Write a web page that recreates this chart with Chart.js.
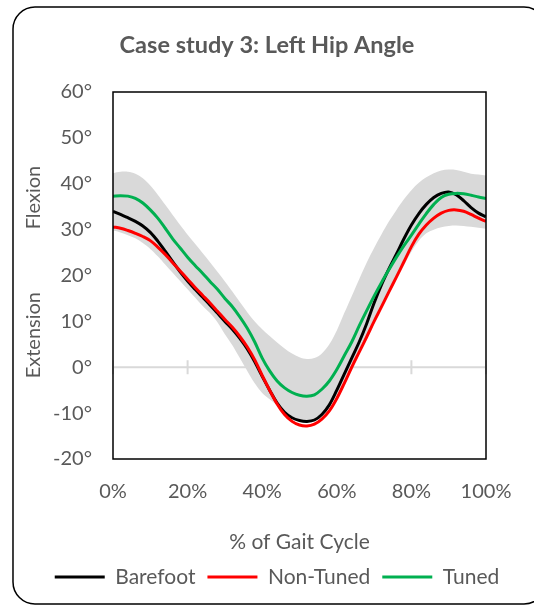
<!DOCTYPE html>
<html>
<head>
<meta charset="utf-8">
<title>Case study 3: Left Hip Angle</title>
<script src="https://cdn.jsdelivr.net/npm/chart.js@4.4.1/dist/chart.umd.min.js"></script>
<style>
  html, body { margin: 0; padding: 0; background: #ffffff; }
  #wrap { width: 534px; height: 608px; }
</style>
</head>
<body>
<div id="wrap"><canvas id="hip" width="534" height="608"></canvas></div>
<script>
// % of gait cycle (sample positions)
const gaitPercent = [0, 2, 4, 6, 8, 10, 12, 14, 16, 18, 20, 22, 24, 26, 28, 30, 32, 34, 36, 38, 40,
  42, 44, 46, 48, 50, 52, 54, 56, 58, 60, 62, 64, 66, 68, 70, 72, 74, 76, 78, 80,
  82, 84, 86, 88, 90, 92, 94, 96, 98, 100];

// Hip flexion (+) / extension (-) angle in degrees
const barefoot = [34.0, 33.3, 32.6, 31.8, 30.8, 29.4, 27.5, 25.3, 23.0, 20.8, 18.8,
  17.0, 15.3, 13.6, 11.8, 10.0, 8.3, 6.3, 4.0, 1.2, -2.0,
  -5.0, -7.8, -9.8, -11.0, -11.6, -11.8, -11.5, -10.3, -8.2, -5.0,
  -1.5, 2.0, 5.5, 9.5, 14.0, 18.0, 21.5, 24.7, 28.0, 31.0,
  33.5, 35.5, 37.0, 37.9, 38.2, 37.6, 36.3, 34.8, 33.6, 32.8];

const nonTuned = [30.6, 30.3, 29.8, 29.2, 28.5, 27.6, 26.2, 24.6, 22.8, 21.0, 19.2,
  17.4, 15.7, 14.0, 12.2, 10.4, 8.7, 6.7, 4.4, 1.6, -1.8,
  -5.0, -8.0, -10.3, -11.8, -12.6, -12.8, -12.4, -11.3, -9.5, -6.8,
  -3.5, 0.0, 3.3, 6.6, 10.0, 13.2, 16.5, 19.7, 23.0, 26.3,
  29.0, 31.0, 32.5, 33.6, 34.2, 34.3, 34.0, 33.3, 32.5, 31.8];

const tuned = [37.3, 37.4, 37.3, 36.8, 35.8, 34.3, 32.5, 30.3, 28.0, 26.0, 24.0,
  22.2, 20.5, 18.7, 17.0, 15.0, 13.2, 11.0, 8.5, 5.5, 2.0,
  -0.8, -3.0, -4.5, -5.5, -6.1, -6.3, -6.0, -4.8, -3.0, -0.5,
  2.5, 5.5, 9.0, 12.3, 15.5, 18.5, 21.3, 24.0, 26.5, 28.8,
  31.2, 33.5, 35.5, 37.0, 37.7, 37.9, 37.8, 37.5, 37.1, 36.8];

// Normative band (upper and lower limits)
const normalUpper = [42.3, 42.6, 42.6, 42.2, 41.2, 39.6, 37.6, 35.4, 33.2, 31.0, 28.9,
  26.9, 24.9, 22.9, 20.8, 18.7, 16.5, 14.2, 12.0, 10.0, 8.3,
  6.8, 5.4, 4.1, 3.0, 2.2, 1.8, 2.0, 3.0, 5.0, 8.0,
  11.8, 15.5, 19.2, 22.8, 26.0, 29.0, 31.8, 34.3, 36.6, 38.6,
  40.2, 41.4, 42.3, 42.9, 43.1, 43.0, 42.6, 42.2, 42.0, 41.8];

const normalLower = [29.8, 29.4, 28.8, 28.1, 27.1, 25.8, 24.2, 22.4, 20.6, 18.8, 17.0,
  15.2, 13.4, 11.8, 9.8, 7.2, 4.8, 2.0, -0.8, -3.5, -5.6,
  -7.0, -8.3, -9.6, -10.7, -11.3, -11.6, -11.3, -10.3, -8.6, -6.0,
  -2.8, 0.8, 3.0, 6.2, 9.5, 12.8, 16.0, 19.2, 22.3, 25.2,
  27.6, 29.2, 30.0, 30.5, 30.8, 30.9, 30.8, 30.6, 30.4, 30.2];

// Axis ticks
const xTicks = [0, 20, 40, 60, 80, 100];
const yTicks = [-20, -10, 0, 10, 20, 30, 40, 50, 60];

const TEXT = '#595959';
const FONT = 'Lato';

const toPoints = (arr) => arr.map((v, i) => ({ x: gaitPercent[i], y: v }));

// white page with the rounded outer frame
const pageFrame = {
  id: 'pageFrame',
  beforeDraw(chart) {
    const ctx = chart.ctx;
    ctx.save();
    ctx.fillStyle = '#ffffff';
    ctx.fillRect(0, 0, chart.width, chart.height);
    ctx.restore();
  },
  afterDraw(chart) {
    const ctx = chart.ctx;
    ctx.save();
    ctx.strokeStyle = '#000000';
    ctx.lineWidth = 1.5;
    ctx.beginPath();
    ctx.roundRect(13, 7, 533, 597, 22);
    ctx.stroke();
    ctx.restore();
  }
};

// zero line with cross tick marks
const zeroAxis = {
  id: 'zeroAxis',
  beforeDatasetsDraw(chart) {
    const { ctx, chartArea, scales } = chart;
    const y0 = scales.y.getPixelForValue(0);
    ctx.save();
    ctx.strokeStyle = '#d9d9d9';
    ctx.lineWidth = 2;
    ctx.beginPath();
    ctx.moveTo(chartArea.left, y0);
    ctx.lineTo(chartArea.right, y0);
    xTicks.forEach((t) => {
      const x = scales.x.getPixelForValue(t);
      ctx.moveTo(x, y0 - 7);
      ctx.lineTo(x, y0 + 7);
    });
    ctx.stroke();
    ctx.restore();
  }
};

// black plot frame and the Flexion / Extension captions
const plotFrame = {
  id: 'plotFrame',
  afterDatasetsDraw(chart) {
    const { ctx, chartArea, scales } = chart;
    ctx.save();
    ctx.strokeStyle = '#000000';
    ctx.lineWidth = 1.5;
    ctx.strokeRect(chartArea.left, chartArea.top, chartArea.right - chartArea.left, chartArea.bottom - chartArea.top);

    ctx.fillStyle = TEXT;
    ctx.font = '20px ' + FONT;
    ctx.textAlign = 'center';
    ctx.textBaseline = 'middle';
    const captions = [['Flexion', scales.y.getPixelForValue(37)], ['Extension', scales.y.getPixelForValue(7)]];
    captions.forEach(([txt, y]) => {
      ctx.save();
      ctx.translate(34, y);
      ctx.rotate(-Math.PI / 2);
      ctx.fillText(txt, 0, 0);
      ctx.restore();
    });
    ctx.restore();
  },
  afterLayout(chart) {
    if (chart.legend) {
      chart.legend.left += 10;
      chart.legend.right += 10;
    }
  }
};

const line = (label, data, color, order) => ({
  label,
  data: toPoints(data),
  borderColor: color,
  backgroundColor: color,
  borderWidth: 3,
  pointRadius: 0,
  tension: 0.35,
  fill: false,
  order
});

new Chart(document.getElementById('hip'), {
  type: 'line',
  data: {
    datasets: [
      line('Barefoot', barefoot, '#000000', 3),
      line('Non-Tuned', nonTuned, '#ff0000', 2),
      line('Tuned', tuned, '#00b050', 1),
      {
        label: 'band-upper',
        data: toPoints(normalUpper),
        borderWidth: 0,
        borderColor: 'rgba(0,0,0,0)',
        backgroundColor: '#d9d9d9',
        pointRadius: 0,
        tension: 0.35,
        fill: '+1',
        order: 10
      },
      {
        label: 'band-lower',
        data: toPoints(normalLower),
        borderWidth: 0,
        borderColor: 'rgba(0,0,0,0)',
        backgroundColor: '#d9d9d9',
        pointRadius: 0,
        tension: 0.35,
        fill: false,
        order: 11
      }
    ]
  },
  options: {
    responsive: false,
    animation: false,
    devicePixelRatio: 1,
    layout: { padding: { top: 0, left: 0, right: 0, bottom: 10.5 } },
    plugins: {
      title: {
        display: true,
        text: 'Case study 3: Left Hip Angle',
        color: TEXT,
        font: { family: FONT, size: 23.5, weight: 'bold' },
        padding: { top: 30.9, bottom: 32.9 }
      },
      legend: {
        display: true,
        position: 'bottom',
        labels: {
          color: TEXT,
          font: { family: FONT, size: 21 },
          boxWidth: 50,
          boxHeight: 3,
          padding: 12,
          filter: (item) => item.datasetIndex < 3,
          sort: (a, b) => a.datasetIndex - b.datasetIndex,
          generateLabels(chart) {
            return Chart.defaults.plugins.legend.labels.generateLabels(chart).map((it) => {
              const ds = chart.data.datasets[it.datasetIndex];
              it.fillStyle = ds.borderColor;
              it.strokeStyle = ds.borderColor;
              it.lineWidth = 0;
              return it;
            });
          }
        }
      },
      tooltip: { enabled: false }
    },
    scales: {
      x: {
        type: 'linear',
        min: 0,
        max: 100,
        grid: { display: false, drawTicks: false },
        border: { display: false },
        afterBuildTicks: (scale) => { scale.ticks = xTicks.map((v) => ({ value: v })); },
        ticks: {
          color: TEXT,
          font: { family: FONT, size: 20 },
          padding: 21,
          maxRotation: 0,
          callback: (v) => v + '%'
        },
        title: {
          display: true,
          text: '% of Gait Cycle',
          color: TEXT,
          font: { family: FONT, size: 21 },
          padding: { top: 0, bottom: 0 }
        },
        afterFit: (scale) => { scale.height = 95.5; }
      },
      y: {
        min: -20,
        max: 60,
        grid: { display: false, drawTicks: false },
        border: { display: false },
        afterBuildTicks: (scale) => { scale.ticks = yTicks.map((v) => ({ value: v })); },
        ticks: {
          color: TEXT,
          font: { family: FONT, size: 20 },
          padding: 21,
          callback: (v) => v + '°'
        },
        afterFit: (scale) => { scale.width = 113; }
      },
      yRight: {
        position: 'right',
        display: true,
        grid: { display: false, drawTicks: false },
        border: { display: false },
        ticks: { display: false },
        afterFit: (scale) => { scale.width = 48; }
      }
    }
  },
  plugins: [pageFrame, zeroAxis, plotFrame]
});
</script>
</body>
</html>
